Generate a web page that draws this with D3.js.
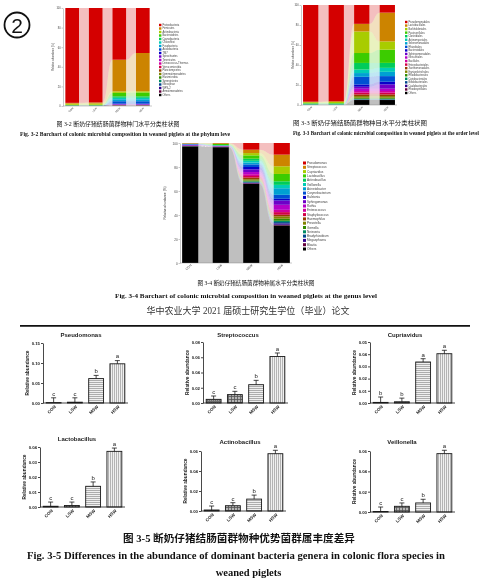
<!DOCTYPE html>
<html><head><meta charset="utf-8">
<script src="https://cdn.jsdelivr.net/npm/d3@7"></script>
<style>body{margin:0;background:#fff}svg{display:block;will-change:transform}</style>
</head><body>
<script>
// ---------------- DATA ----------------
const groups = ["CON","LSW","MSW","HSW"];

// Fig 3-2 phylum level (% per sample, legend order top->bottom)
const phylumNames = ["Proteobacteria","Firmicutes","Actinobacteria","Bacteroidetes","Cyanobacteria","Chloroflexi","Fusobacteria","Acidobacteria","TM7","Spirochaetes","Tenericutes","Deinococcus-Thermus","Verrucomicrobia","Planctomycetes","Gemmatimonadetes","Elusimicrobia","Synergistetes","Nitrospirae","WPS-2","Armatimonadetes","Others"];
const phylumCON = [96.8,0.8,1.2,0.5,0.2,0.1,0.1,0.05,0.05,0.04,0.03,0.02,0.02,0.02,0.01,0.01,0.01,0.01,0.01,0.01,0.02];
const phylumLSW = [96.4,1.0,1.3,0.6,0.2,0.1,0.1,0.06,0.05,0.04,0.03,0.02,0.02,0.02,0.01,0.01,0.01,0.01,0.01,0.01,0.02];
const phylumMSW = [52.9,32.4,1.5,3.5,1.5,1.5,2.0,2.5,0.5,0.4,0.3,0.2,0.2,0.1,0.1,0.1,0.1,0.1,0.1,0.1,0.1];
const phylumHSW = [46.1,39.2,1.2,4.0,1.5,1.5,2.0,2.5,0.5,0.4,0.3,0.2,0.2,0.1,0.1,0.1,0.1,0.1,0.1,0.1,0.1];

// Fig 3-3 order level
const orderNames = ["Pseudomonadales","Lactobacillales","Burkholderiales","Pasteurellales","Clostridiales","Actinomycetales","Selenomonadales","Rhizobiales","Bacteroidales","Sphingomonadales","Neisseriales","Bacillales","Enterobacteriales","Xanthomonadales","Erysipelotrichales","Rhodobacterales","Coriobacteriales","Bifidobacteriales","Caulobacterales","Rhodospirillales","Others"];
const orderCON = [96.7,0.5,1.0,0.3,1.0,0.1,0.1,0.05,0.05,0.03,0.03,0.02,0.02,0.02,0.01,0.01,0.01,0.01,0.01,0.01,0.03];
const orderLSW = [96.3,0.8,1.1,0.4,1.0,0.1,0.1,0.05,0.05,0.03,0.03,0.02,0.02,0.02,0.01,0.01,0.01,0.01,0.01,0.01,0.03];
const orderMSW = [19.0,7.7,21.7,10.0,6.7,3.5,3.8,7.7,2.3,2.0,2.3,1.7,1.7,1.7,1.7,1.0,0.7,0.3,0.2,0.1,5.0];
const orderHSW = [7.7,29.0,8.3,13.3,5.0,4.0,4.3,5.7,2.7,4.3,2.3,1.7,1.7,1.7,1.7,1.0,0.7,0.3,0.2,0.1,5.0];

// Fig 3-4 genus level
const genusNames = ["Pseudomonas","Streptococcus","Cupriavidus","Lactobacillus","Actinobacillus","Veillonella","Acinetobacter","Corynebacterium","Ralstonia","Sphingomonas","Rothia","Enterococcus","Staphylococcus","Haemophilus","Prevotella","Gemella","Neisseria","Bradyrhizobium","Megasphaera","Blautia","Others"];
const genusCON = [0.1,0.4,0.05,0.05,0.1,0.05,0.3,0.3,0.2,0.6,0.1,0.1,0.1,0.05,0.05,0.05,0.05,0.05,0.05,0.05,97.2];
const genusLSW = [0.1,0.6,0.05,1.0,0.2,0.1,0.2,0.2,0.1,0.3,0.1,0.1,0.1,0.05,0.05,0.05,0.05,0.05,0.05,0.05,96.5];
const genusMSW = [5.6,2.8,1.9,2.8,1.7,1.5,1.5,2.2,2.0,2.2,1.8,1.5,1.4,1.3,1.0,0.8,0.6,0.5,0.5,0.5,65.9];
const genusHSW = [9.7,9.7,6.4,6.1,3.0,2.8,5.5,3.3,1.4,3.6,4.2,1.9,2.2,1.4,1.9,1.7,1.1,1.1,1.1,0.6,31.3];
const stackTicks = [0,20,40,60,80,100];

// Fig 3-5 relative abundance (mean, error, significance letters)
const pseudomonasMean = [0.001,0.002,0.061,0.098];
const pseudomonasErr  = [0.012,0.011,0.008,0.008];
const pseudomonasSig  = ["c","c","b","a"];
const pseudomonasTicks = [0,0.05,0.10,0.15];

const streptococcusMean = [0.0048,0.011,0.024,0.061];
const streptococcusErr  = [0.0044,0.0043,0.0057,0.0046];
const streptococcusSig  = ["c","c","b","a"];
const streptococcusTicks = [0,0.02,0.04,0.06,0.08];

const cupriavidusMean = [0.0005,0.001,0.0336,0.0404];
const cupriavidusErr  = [0.0044,0.003,0.0027,0.0028];
const cupriavidusSig  = ["b","b","a","a"];
const cupriavidusTicks = [0,0.01,0.02,0.03,0.04,0.05];

const lactobacillusMean = [0.0005,0.001,0.0138,0.0371];
const lactobacillusErr  = [0.0028,0.0023,0.0029,0.0022];
const lactobacillusSig  = ["c","c","b","a"];
const lactobacillusTicks = [0,0.01,0.02,0.03,0.04];

const actinobacillusMean = [0.001,0.0053,0.0119,0.0573];
const actinobacillusErr  = [0.004,0.003,0.004,0.0034];
const actinobacillusSig  = ["c","c","b","a"];
const actinobacillusTicks = [0,0.02,0.04,0.06];

const veillonellaMean = [0.0005,0.0056,0.0089,0.0574];
const veillonellaErr  = [0.0044,0.0033,0.0036,0.0033];
const veillonellaSig  = ["c","c","b","a"];
const veillonellaTicks = [0,0.02,0.04,0.06];

// ---------------- STYLE ----------------
const stackPalette = ["#d40000","#cc8400","#a8cc00","#3ccc00","#00cc5a","#00ccb4","#00a0d2","#0050d2","#0a00c8","#6e00c8","#b400c8","#d2009b","#d20046","#963c00","#828200","#328c00","#008c64","#00468c","#32008c","#64003c","#000000"];
const SANS = "'Liberation Sans', Arial, sans-serif";
const SERIF = "'Liberation Serif', 'Times New Roman', 'Noto Sans CJK SC', serif";

const svg = d3.select("body").append("svg").attr("width",481).attr("height",580);
svg.append("rect").attr("width",481).attr("height",580).attr("fill","#fff");
const defs = svg.append("defs");

function pattern(id,w,h,bg){
  const p = defs.append("pattern").attr("id",id).attr("patternUnits","userSpaceOnUse").attr("width",w).attr("height",h);
  p.append("rect").attr("width",w).attr("height",h).attr("fill",bg);
  return p;
}
let p = pattern("patCON",2,2,"#6e6e6e");
p.append("rect").attr("width",1).attr("height",1).attr("fill","#9a9a9a");
p = pattern("patLSW",3,3,"#b4b4b4");
p.append("path").attr("d","M0,0.5H3M0.5,0V3").attr("stroke","#555").attr("stroke-width",0.8);
p = pattern("patMSW",3,2,"#f0f0f0");
p.append("path").attr("d","M0,0.5H3").attr("stroke","#9c9c9c").attr("stroke-width",0.8);
p = pattern("patHSW",2,3,"#f0f0f0");
p.append("path").attr("d","M0.5,0V3").attr("stroke","#a4a4a4").attr("stroke-width",0.8);

function txt(x,y,s,o){
  const t = svg.append("text").attr("x",x).attr("y",y).text(s)
    .attr("font-family",o.family||SERIF).attr("font-size",o.size).attr("fill",o.fill||"#111")
    .attr("text-anchor",o.anchor||"middle").attr("font-weight",o.weight||"normal");
  if(o.len) t.attr("textLength",o.len).attr("lengthAdjust","spacingAndGlyphs");
  return t;
}

// ---------------- circled number ----------------
svg.append("circle").attr("cx",17).attr("cy",25).attr("r",12.5).attr("fill","none").attr("stroke","#111").attr("stroke-width",1.8);
txt(17,32.5,"2",{family:SANS,size:21});

// ---------------- stacked composition charts ----------------
function drawStack(cfg){
  const g = svg.append("g");
  const keys = cfg.names.slice().reverse();
  const rows = groups.map((s,i)=>{ const r={sample:s}; cfg.names.forEach((n,j)=>r[n]=cfg.values[i][j]); return r; });
  const series = d3.stack().keys(keys).offset(d3.stackOffsetExpand)(rows);
  const x = d3.scaleBand().domain(groups).range([cfg.x0,cfg.x1]).paddingInner(cfg.inner).paddingOuter(cfg.outer);
  const y = d3.scaleLinear().domain([0,100]).range([cfg.bottom,cfg.top]);
  const color = d3.scaleOrdinal().domain(cfg.names).range(stackPalette);
  const bw = x.bandwidth();
  const area = d3.area().x(d=>d.x).y0(d=>y(d.y0*100)).y1(d=>y(d.y1*100)).curve(d3.curveBumpX);
  series.forEach(s=>{
    for(let i=0;i<groups.length-1;i++){
      const pts=[{x:x(groups[i])+bw,y0:s[i][0],y1:s[i][1]},{x:x(groups[i+1]),y0:s[i+1][0],y1:s[i+1][1]}];
      g.append("path").attr("d",area(pts)).attr("fill",color(s.key)).attr("fill-opacity",0.25);
    }
  });
  series.forEach(s=>{
    g.append("g").selectAll("rect").data(s).join("rect")
      .attr("x",d=>x(d.data.sample)).attr("width",bw)
      .attr("y",d=>y(d[1]*100)).attr("height",d=>Math.max(0,y(d[0]*100)-y(d[1]*100)))
      .attr("fill",color(s.key));
  });
  const ya = g.append("g").attr("transform",`translate(${cfg.x0},0)`)
    .call(d3.axisLeft(y).tickValues(stackTicks).tickSize(1.5).tickPadding(0.8).tickSizeOuter(0));
  ya.selectAll("text").attr("font-size",cfg.fs).attr("font-family",SANS).attr("fill","#444");
  ya.selectAll("line,path").attr("stroke","#777").attr("stroke-width",0.4);
  g.append("line").attr("x1",cfg.x0).attr("x2",cfg.x1).attr("y1",cfg.bottom).attr("y2",cfg.bottom).attr("stroke","#777").attr("stroke-width",0.4);
  g.append("text").attr("transform",`translate(${cfg.ylx},${(cfg.top+cfg.bottom)/2}) rotate(-90)`)
    .attr("text-anchor","middle").attr("font-size",cfg.fs).attr("font-family",SANS).attr("fill","#444").text("Relative abundance (%)");
  groups.forEach(gr=>{
    g.append("text").attr("transform",`translate(${x(gr)+bw/2+1.5},${cfg.bottom+2.5}) rotate(-45)`)
      .attr("text-anchor","end").attr("font-size",cfg.fs).attr("font-family",SANS).attr("fill","#444").text(gr);
  });
  cfg.names.forEach((n,j)=>{
    const yy = cfg.ly + j*cfg.lstep;
    g.append("rect").attr("x",cfg.lx).attr("y",yy-cfg.sq/2).attr("width",cfg.sq).attr("height",cfg.sq).attr("fill",color(n));
    g.append("text").attr("x",cfg.lx+cfg.sq+1).attr("y",yy+cfg.fs*0.35).attr("font-size",cfg.fs).attr("font-family",SANS).attr("fill","#444").text(n);
  });
}

drawStack({names:phylumNames, values:[phylumCON,phylumLSW,phylumMSW,phylumHSW],
  x0:63, x1:152, top:8, bottom:106, inner:0.42, outer:0.1, ylx:54, lx:159, ly:25, lstep:3.5, sq:2.4, fs:2.6});
drawStack({names:orderNames, values:[orderCON,orderLSW,orderMSW,orderHSW],
  x0:301, x1:397, top:5, bottom:105, inner:0.4, outer:0.08, ylx:294, lx:405, ly:22, lstep:3.55, sq:2.4, fs:2.6});
drawStack({names:genusNames, values:[genusCON,genusLSW,genusMSW,genusHSW],
  x0:180, x1:292, top:143, bottom:263, inner:0.47, outer:0.07, ylx:166, lx:303, ly:163, lstep:4.3, sq:3, fs:3.1});

// captions of stacked charts
txt(118,126,"图 3-2  断奶仔猪结肠菌群物种门水平分类柱状图",{size:5.6,len:123});
txt(125,135.5,"Fig. 3-2 Barchart of colonic microbial composition in weaned piglets at the phylum leve",{size:5.4,weight:"bold",len:210});
txt(360,125,"图 3-3  断奶仔猪结肠菌群物种目水平分类柱状图",{size:5.8,len:134});
txt(293,134.5,"Fig. 3-3 Barchart of colonic microbial composition in weaned piglets at the order level",{size:5.2,weight:"bold",anchor:"start",len:186});
txt(256,284.5,"图 3-4  断奶仔猪结肠菌群物种属水平分类柱状图",{size:5.4,len:117});
txt(246,298,"Fig. 3-4 Barchart of colonic microbial composition in weaned piglets at the genus level",{size:6.4,weight:"bold",len:262});

// page header
txt(248,313.5,"华中农业大学 2021 届硕士研究生学位（毕业）论文",{size:9.5,fill:"#333",len:203});
svg.append("line").attr("x1",20).attr("x2",470).attr("y1",325.8).attr("y2",325.8).attr("stroke","#111").attr("stroke-width",1.8);

// ---------------- Fig 3-5 bar charts ----------------
function drawBar(c){
  const g = svg.append("g");
  const x = d3.scaleBand().domain(groups).range([c.x0,c.x0+85]).paddingInner(0.3).paddingOuter(0.15);
  const ymax = c.ticks[c.ticks.length-1];
  const y = d3.scaleLinear().domain([0,ymax]).range([c.bottom,c.top]);
  const bw = x.bandwidth();
  g.selectAll("rect.bar").data(groups).join("rect").attr("class","bar")
    .attr("x",d=>x(d)).attr("width",bw)
    .attr("y",(d,i)=>y(c.mean[i])).attr("height",(d,i)=>y(0)-y(c.mean[i]))
    .attr("fill",d=>`url(#pat${d})`).attr("stroke","#1a1a1a").attr("stroke-width",0.9);
  groups.forEach((d,i)=>{
    const cx = x(d)+bw/2, yt = y(c.mean[i]+c.err[i]);
    g.append("line").attr("x1",cx).attr("x2",cx).attr("y1",y(c.mean[i])).attr("y2",yt).attr("stroke","#1a1a1a").attr("stroke-width",0.8);
    g.append("line").attr("x1",cx-2.5).attr("x2",cx+2.5).attr("y1",yt).attr("y2",yt).attr("stroke","#1a1a1a").attr("stroke-width",0.8);
    g.append("text").attr("x",cx).attr("y",yt-2.2).attr("text-anchor","middle").attr("font-family",SANS).attr("font-size",6).attr("fill","#222").text(c.sig[i]);
    g.append("text").attr("transform",`translate(${cx+2.5},${c.bottom+4}) rotate(-45)`).attr("text-anchor","end")
      .attr("font-family",SANS).attr("font-size",4.4).attr("font-weight","bold").attr("fill","#222").text(d);
  });
  const ya = g.append("g").attr("transform",`translate(${c.x0},0)`)
    .call(d3.axisLeft(y).tickValues(c.ticks).tickFormat(d3.format(".2f")).tickSize(2).tickPadding(1).tickSizeOuter(0));
  ya.selectAll("text").attr("font-size",4.3).attr("font-weight","bold").attr("font-family",SANS).attr("fill","#222");
  ya.selectAll("line,path").attr("stroke","#1a1a1a").attr("stroke-width",0.8);
  g.append("line").attr("x1",c.x0).attr("x2",c.x0+85).attr("y1",c.bottom).attr("y2",c.bottom).attr("stroke","#1a1a1a").attr("stroke-width",0.8);
  g.append("text").attr("transform",`translate(${c.x0-14.5},${(c.top+c.bottom)/2}) rotate(-90)`).attr("text-anchor","middle")
    .attr("font-family",SANS).attr("font-size",4.8).attr("font-weight","bold").attr("fill","#222").text("Relative abundance");
  g.append("text").attr("x",c.tx).attr("y",c.ty).attr("text-anchor","middle").attr("font-family",SANS)
    .attr("font-size",6).attr("font-weight","bold").attr("fill","#222").text(c.title);
}

drawBar({title:"Pseudomonas",mean:pseudomonasMean,err:pseudomonasErr,sig:pseudomonasSig,ticks:pseudomonasTicks,x0:43,top:343,bottom:403,tx:81,ty:336.5});
drawBar({title:"Streptococcus",mean:streptococcusMean,err:streptococcusErr,sig:streptococcusSig,ticks:streptococcusTicks,x0:203,top:342,bottom:403,tx:238,ty:336.5});
drawBar({title:"Cupriavidus",mean:cupriavidusMean,err:cupriavidusErr,sig:cupriavidusSig,ticks:cupriavidusTicks,x0:370,top:342,bottom:403,tx:405,ty:336.5});
drawBar({title:"Lactobacillus",mean:lactobacillusMean,err:lactobacillusErr,sig:lactobacillusSig,ticks:lactobacillusTicks,x0:40,top:447,bottom:507,tx:77,ty:440.5});
drawBar({title:"Actinobacillus",mean:actinobacillusMean,err:actinobacillusErr,sig:actinobacillusSig,ticks:actinobacillusTicks,x0:201,top:451,bottom:511,tx:240,ty:443.5});
drawBar({title:"Veillonella",mean:veillonellaMean,err:veillonellaErr,sig:veillonellaSig,ticks:veillonellaTicks,x0:370,top:451,bottom:512,tx:402,ty:443.5});

// captions Fig 3-5
txt(239,541.5,"图 3-5  断奶仔猪结肠菌群物种优势菌群属丰度差异",{size:10,weight:"bold",len:232});
txt(236,558.5,"Fig. 3-5 Differences in the abundance of dominant bacteria genera in colonic flora species in",{size:10.5,weight:"bold",len:418});
txt(248.5,575.5,"weaned piglets",{size:10.5,weight:"bold"});
</script>
</body></html>
